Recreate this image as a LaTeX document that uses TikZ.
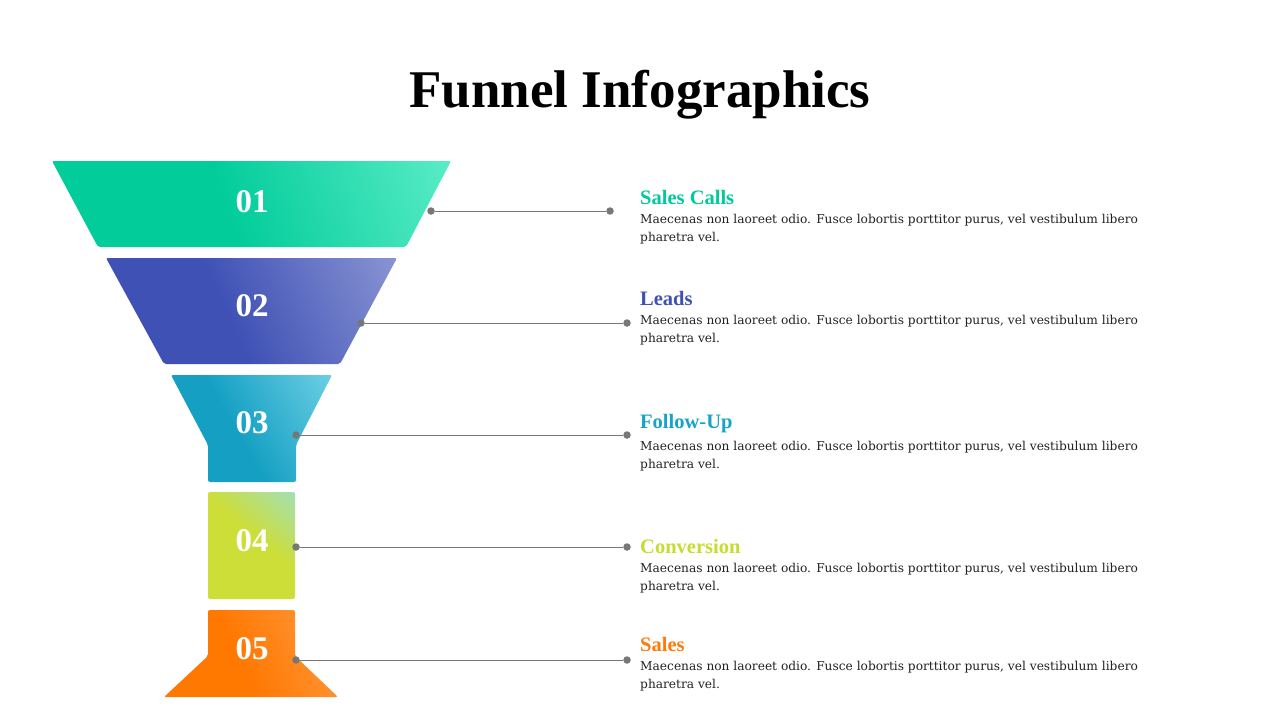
\documentclass[tikz,border=0pt]{standalone}
\usepackage{fontspec}
\setmainfont{Liberation Serif}
\newfontfamily\bodyfont{DejaVu Serif}
\definecolor{cAa}{HTML}{02CC9A}\definecolor{cAb}{HTML}{84FCDD}
\definecolor{cBa}{HTML}{3F51B5}\definecolor{cBb}{HTML}{A9B2E0}
\definecolor{cCa}{HTML}{15A0C3}\definecolor{cCb}{HTML}{8FE2F2}
\definecolor{cDa}{HTML}{CDDE38}\definecolor{cDb}{HTML}{8FE0F0}
\definecolor{cEa}{HTML}{FF7800}\definecolor{cEb}{HTML}{FFAA60}
\definecolor{tA}{HTML}{00C99A}\definecolor{tB}{HTML}{3F51B5}
\definecolor{tC}{HTML}{17A2C7}\definecolor{tD}{HTML}{C6DC2E}
\definecolor{tE}{HTML}{FF7A0A}
\definecolor{dotgray}{HTML}{777777}
\definecolor{bodytxt}{HTML}{222222}
\pgfdeclarehorizontalshading{shA}{100bp}{color(0bp)=(cAa); color(46bp)=(cAa); color(100bp)=(cAb)}
\pgfdeclarehorizontalshading{shB}{100bp}{color(0bp)=(cBa); color(45bp)=(cBa); color(100bp)=(cBb)}
\pgfdeclarehorizontalshading{shC}{100bp}{color(0bp)=(cCa); color(45bp)=(cCa); color(100bp)=(cCb)}
\pgfdeclarehorizontalshading{shD}{100bp}{color(0bp)=(cDa); color(55bp)=(cDa); color(100bp)=(cDb)}
\pgfdeclarehorizontalshading{shE}{100bp}{color(0bp)=(cEa); color(45bp)=(cEa); color(100bp)=(cEb)}
\tikzset{
  seg/.style={rounded corners=2pt},
  num/.style={text=white, font=\fontsize{33}{36}\selectfont\bfseries, inner sep=0pt},
  dotn/.style={circle, fill=dotgray, minimum size=7.5pt, inner sep=0pt},
  conn/.style={draw=dotgray, line width=0.8pt},
  head/.style={anchor=west, font=\fontsize{20.5}{24}\selectfont\bfseries, inner sep=0pt},
  body/.style={anchor=north west, align=left, text=bodytxt, font=\bodyfont\fontsize{12.2}{18}\selectfont, inner sep=0pt}
}
\begin{document}
\begin{tikzpicture}[x=1pt,y=-1pt]
\useasboundingbox[fill=white] (0,0) rectangle (1280,720);
% title
\node[font=\fontsize{53}{58}\selectfont\bfseries, inner sep=0pt] (title) at (640,95) {Funnel Infographics};
% segments
\shade[seg, shading=shA, shading angle=20] (52,161) -- (451,161) -- (406,247) -- (98,247) -- cycle;
\shade[seg, shading=shB, shading angle=25] (106,258) -- (397,258) -- (340,364) -- (164,364) -- cycle;
\shade[seg, shading=shC, shading angle=30] (171,375) -- (332,375) -- (296,445) -- (296,482) -- (208,482) -- (208,445) -- cycle;
\shade[seg, shading=shD, shading angle=50] (208,492) -- (295,492) -- (295,599) -- (208,599) -- cycle;
\shade[seg, shading=shE, shading angle=25] (208,610) -- (295,610) -- (295,656) -- (338,697) -- (164,697) -- (208,656) -- cycle;
% numbers
\node[num] (n1) at (252,202) {01};
\node[num] (n2) at (252,306) {02};
\node[num] (n3) at (252,423) {03};
\node[num] (n4) at (252,541) {04};
\node[num] (n5) at (252,649) {05};
% connectors
\node[dotn] (a1) at (431,211) {}; \node[dotn] (b1) at (610,211) {};
\node[dotn] (a2) at (361,323) {}; \node[dotn] (b2) at (627,323) {};
\node[dotn] (a3) at (296,435) {}; \node[dotn] (b3) at (627,435) {};
\node[dotn] (a4) at (296,547) {}; \node[dotn] (b4) at (627,547) {};
\node[dotn] (a5) at (296,660) {}; \node[dotn] (b5) at (627,660) {};
\draw[conn] (a1) -- (b1);
\draw[conn] (a2) -- (b2);
\draw[conn] (a3) -- (b3);
\draw[conn] (a4) -- (b4);
\draw[conn] (a5) -- (b5);
% texts
\node[head, text=tA] (h1) at (640,197) {Sales Calls};
\node[head, text=tB] (h2) at (640,298) {Leads};
\node[head, text=tC] (h3) at (640,424) {Follow-Up};
\node[head, text=tD] (h4) at (640,546) {Conversion};
\node[head, text=tE] (h5) at (640,644) {Sales};
\node[body] (t1) at (640,214) {Maecenas non laoreet odio. Fusce lobortis porttitor purus, vel vestibulum libero\\pharetra vel.};
\node[body] (t2) at (640,315) {Maecenas non laoreet odio. Fusce lobortis porttitor purus, vel vestibulum libero\\pharetra vel.};
\node[body] (t3) at (640,441) {Maecenas non laoreet odio. Fusce lobortis porttitor purus, vel vestibulum libero\\pharetra vel.};
\node[body] (t4) at (640,563) {Maecenas non laoreet odio. Fusce lobortis porttitor purus, vel vestibulum libero\\pharetra vel.};
\node[body] (t5) at (640,661) {Maecenas non laoreet odio. Fusce lobortis porttitor purus, vel vestibulum libero\\pharetra vel.};
\end{tikzpicture}
\end{document}
